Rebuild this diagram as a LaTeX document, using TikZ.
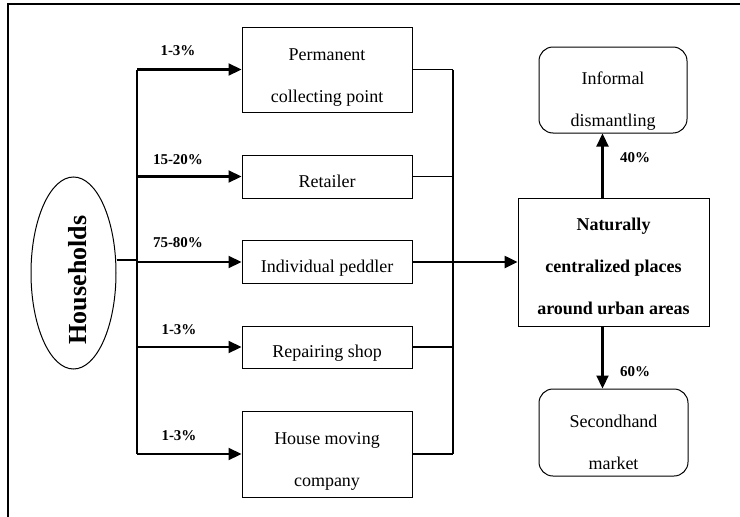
\documentclass[tikz,border=0pt]{standalone}
\usepackage{fontspec}
\setmainfont{Liberation Serif}
\usetikzlibrary{arrows.meta,shapes.geometric}
\newcommand\txtdrop[1]{\rule{0pt}{#1pt}}
\begin{document}
\begin{tikzpicture}[x=1pt,y=-1pt,
  box/.style={draw, line width=1pt, rectangle, align=center, inner sep=0pt, font=\fontsize{18}{42}\selectfont},
  rbox/.style={box, rounded corners=14pt},
  flow/.style={line width=2.2pt, -{Triangle[length=13pt,width=12pt]}},
  trunkline/.style={line width=1.8pt},
  link/.style={line width=1.2pt},
  pct/.style={font=\fontsize{15}{18}\selectfont\bfseries, inner sep=0pt}
]
\useasboundingbox (0,0) rectangle (740,517);
\coordinate (fl) at (8,517);
\coordinate (ftl) at (8,4);
\coordinate (ftr) at (740,4);
\draw[line width=2pt] (fl) -- (ftl) -- (ftr);

% households
\node[draw, ellipse, line width=1pt, minimum width=85pt, minimum height=192pt, inner sep=0pt] (hh) at (73.5,273) {};
\node[rotate=90, font=\fontsize{26}{30}\selectfont\bfseries, inner sep=0pt] (hhtext) at (78,280) {Households};

% intermediate boxes
\node[box, minimum width=170pt, minimum height=85pt] (perm) at (327,69.5) {\txtdrop{28}Permanent\\collecting point};
\node[box, minimum width=170pt, minimum height=43pt] (ret) at (327,176.5) {\txtdrop{22}Retailer};
\node[box, minimum width=170pt, minimum height=43pt] (ped) at (327,262) {\txtdrop{25}Individual peddler};
\node[box, minimum width=170pt, minimum height=42pt] (rep) at (327,347) {\txtdrop{24}Repairing shop};
\node[box, minimum width=170pt, minimum height=86pt] (hmc) at (327,454) {\txtdrop{27}House moving\\company};

% right side
\node[box, minimum width=191pt, minimum height=128pt, font=\fontsize{18}{42}\selectfont\bfseries] (nat) at (613.5,262) {\txtdrop{21}Naturally\\centralized places\\around urban areas};
\node[rbox, minimum width=148pt, minimum height=86pt] (inf) at (613,90) {\txtdrop{34}Informal\\dismantling};
\node[rbox, minimum width=149pt, minimum height=87pt] (sec) at (613.5,432.5) {\txtdrop{32}Secondhand\\market};

% left trunk
\coordinate (trunk) at (137,0);
\coordinate (hhj) at (137,260);
\draw[link] (hh.east |- hhj) -- (hhj);
\draw[trunkline] (perm.west -| trunk) -- (hmc.west -| trunk);
\foreach \b in {perm,ret,ped,rep,hmc}{
  \draw[flow] (\b.west -| trunk) -- (\b.west);
}

% right collector
\coordinate (col) at (453,0);
\draw[link] (perm.east -| col) -- (hmc.east -| col);
\foreach \b in {perm,ret,rep,hmc}{
  \draw[link] (\b.east) -- (\b.east -| col);
}
\draw[flow, line width=2.5pt] (ped.east) -- (nat.west);

% outflows
\draw[flow] ([xshift=-11pt]nat.north) -- ([xshift=-11pt]nat.north |- inf.south);
\draw[flow] ([xshift=-11pt]nat.south) -- ([xshift=-11pt]nat.south |- sec.north);

% percentages
\node[pct] (p1) at (178,51) {1-3\%};
\node[pct] (p2) at (178,160) {15-20\%};
\node[pct] (p3) at (178,243) {75-80\%};
\node[pct] (p4) at (179,330) {1-3\%};
\node[pct] (p5) at (179,436) {1-3\%};
\node[pct] (p6) at (635,158) {40\%};
\node[pct] (p7) at (635,372) {60\%};
\end{tikzpicture}
\end{document}
